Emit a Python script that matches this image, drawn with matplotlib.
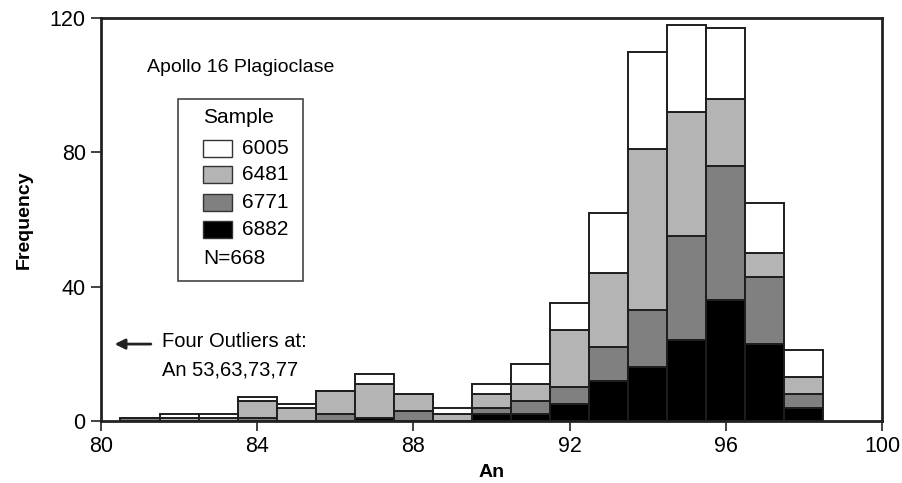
import numpy as np
import matplotlib
matplotlib.use("Agg")
import matplotlib.pyplot as plt
from matplotlib.patches import Rectangle

plt.rcParams['font.family'] = ['Liberation Sans Narrow', 'Liberation Sans', 'DejaVu Sans']

# An bin centres (width 1)
an_bins = np.arange(81, 99)

# counts per sample (bottom -> top of the stack)
s6882 = [0, 0, 0, 0, 0, 0, 1, 0, 0, 2, 2, 5, 12, 16, 24, 36, 23, 4]
s6771 = [1, 0, 0, 1, 0, 2, 0, 3, 0, 2, 4, 5, 10, 17, 31, 40, 20, 4]
s6481 = [0, 1, 1, 5, 4, 7, 10, 5, 2, 4, 5, 17, 22, 48, 37, 20, 7, 5]
s6005 = [0, 1, 1, 1, 1, 0, 3, 0, 2, 3, 6, 8, 18, 29, 26, 21, 15, 8]

samples = ["6882", "6771", "6481", "6005"]
series = [s6882, s6771, s6481, s6005]
colors = ["#000000", "#808080", "#b4b4b4", "#ffffff"]

x_ticks = [80, 84, 88, 92, 96, 100]
y_ticks = [0, 40, 80, 120]

fig = plt.figure(figsize=(9.03, 4.83), dpi=100)
ax = fig.add_axes([0.1118, 0.1284, 0.8649, 0.8343])

bottom = np.zeros(len(an_bins))
for name, vals, col in zip(samples, series, colors):
    vals = np.array(vals)
    ax.bar(an_bins, vals, width=1.0, bottom=bottom, color=col,
           edgecolor="#1e1e1e", linewidth=1.4, label=name)
    bottom += vals

ax.set_xlim(80, 100)
ax.set_ylim(0, 120)
ax.set_xticks(x_ticks)
ax.set_yticks(y_ticks)
ax.tick_params(labelsize=15.5, length=7, width=1.2, color="#222222", pad=4)
for sp in ax.spines.values():
    sp.set_linewidth(2)
    sp.set_color("#222222")

ax.set_xlabel("An", fontsize=14, fontweight="bold", labelpad=5)
ax.set_ylabel("Frequency", fontsize=14, fontweight="bold", labelpad=12)

ax.text(81.18, 105.4, "Apollo 16 Plagioclase", fontsize=14, va="center", ha="left")

# outlier note
ax.annotate("", xy=(80.28, 22.9), xytext=(81.35, 22.9),
            arrowprops=dict(arrowstyle="-|>", color="#222222", lw=2, mutation_scale=15))
ax.text(81.56, 23.8, "Four Outliers at:", fontsize=14.5, va="center", ha="left")
ax.text(81.56, 15.2, "An 53,63,73,77", fontsize=14.5, va="center", ha="left")

# hand-made legend box (axes fraction coords)
ax.add_patch(Rectangle((0.0986, 0.347), 0.16, 0.452, transform=ax.transAxes,
                       facecolor="white", edgecolor="#444444", lw=1.2, zorder=5))
ax.text(0.1306, 0.754, "Sample", transform=ax.transAxes, fontsize=15,
        va="center", ha="left", zorder=6)
leg_y = [0.677, 0.611, 0.543, 0.476]
for yy, name, col in zip(leg_y, samples[::-1], colors[::-1]):
    ax.add_patch(Rectangle((0.1306, yy - 0.021), 0.0371, 0.042, transform=ax.transAxes,
                           facecolor=col, edgecolor="#333333", lw=1.0, zorder=6))
    ax.text(0.180, yy, name, transform=ax.transAxes, fontsize=15,
            va="center", ha="left", zorder=6)
ax.text(0.1306, 0.404, "N=668", transform=ax.transAxes, fontsize=15,
        va="center", ha="left", zorder=6)

fig.savefig("out.png", dpi=100)
